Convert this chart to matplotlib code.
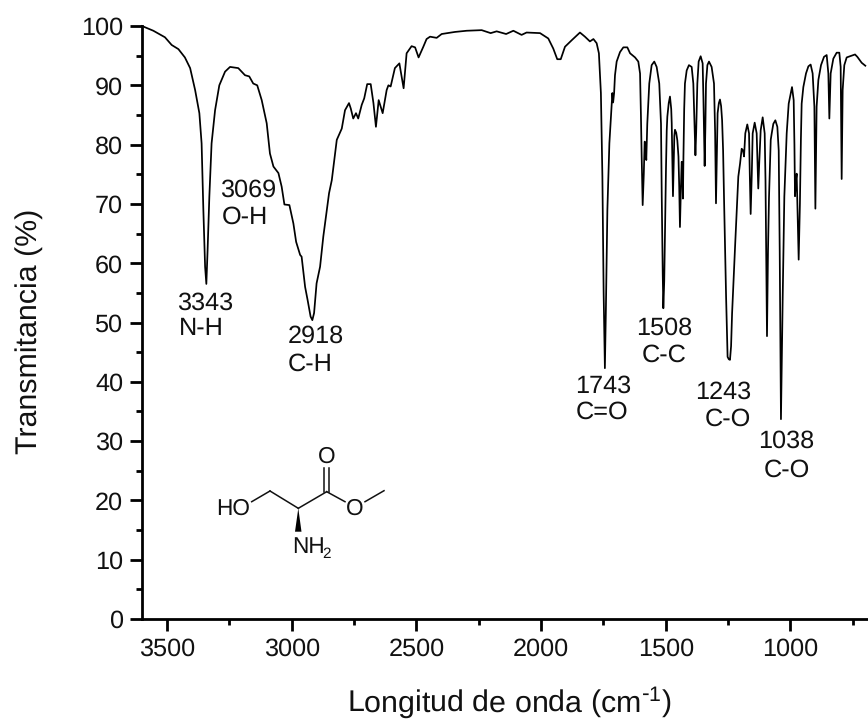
import matplotlib
matplotlib.use("Agg")
import matplotlib.pyplot as plt
from matplotlib.patches import Polygon

plt.rcParams['font.family'] = ['Liberation Sans', 'DejaVu Sans']
plt.rcParams['mathtext.default'] = 'regular'
plt.rcParams['text.hinting'] = 'no_hinting'

wn_high = [3600,3554.5,3508,3481,3454,3428,3407,3387,3370,3361,3354,3347,3342,3337,3330,3321,3307,3290,3267,3247,
 3214,3187,3170,3154,3138,3120,3100,3087,3073,3053,3040,3029,3009,2993,2982,2966,2960,2946,2936,2924,2917,2910,2900,
 2886,2873,2850,2839,2819,2799,2786,2770,2763,2753,2742,2733,2719,2709,2697,2683,2672,2662,2651,2635,2619,2612,2603,
 2586,2568,2559,2551,2539,2519,2505,2491,2472,2459,2445,2418.5,2398.4,2345,2298,2238,2202,2178,2140,2111,2078,2058,
 2004,1971,1951,1935,1921,1904,1877,1844,1824,1804,1790,1777,1768,1760,1754,1749,1744,1740,1734,1726,1714,1711,1707]
t_high = [100,99.2,98.1,96.8,96.1,94.7,92.9,89.2,85.3,80.2,69,59.4,56.5,62.2,71.2,80.2,85.8,90,92.3,93.1,
 92.9,91.7,91.5,90.3,90,87.5,83.6,78.5,76.3,75.2,72.9,69.9,69.8,66.7,63.6,61.4,61.1,56,53.8,51,50.4,51.6,56.6,
 59.4,64.5,71.8,74,80.8,82.7,85.8,87,86.1,84.4,85.3,84.4,86.7,87.8,90.2,90.2,87,83,87.5,85.3,89.2,90,89.8,
 92.9,93.7,91.5,89.5,95.4,96.6,96.4,94.7,96.5,97.8,98.2,98,98.65,99,99.2,99.3,98.8,99.1,98.65,99.2,98.5,98.9,
 98.8,97.9,96.2,94.4,94.4,96.5,97.6,98.9,98.2,97.4,97.8,97.1,95.4,88.7,74.6,54.9,42.3,52.1,69,80.2,88.7,87.1,88.7]
wn_mid = [1703.5,1696.8,1683.4,1670,1654,1643,1623,1610,1603,1599.5,1596.5,1592.5,1588,1584.5,1582,1578,1574,1566,
 1556.5,1546,1536.4,1526,1519,1516,1512,1509.6,1506,1503,1499,1496,1493.6,1488,1483,1478,1476,1473,1471,1468,1465.5,
 1463,1458,1453.5,1449,1446,1443,1439,1436,1434,1431,1429,1426,1423,1416,1407,1396,1389.4,1385,1381,1378,1373.3,1368,
 1360,1352,1349,1344,1341,1338.6,1333,1326.6,1316,1306.5,1302,1298.5,1295,1292,1287,1282.5,1278,1274,1270,1266.4,1258,
 1252,1247,1242.4,1238,1234,1222,1209,1202,1195.5,1190,1186,1181,1173,1166,1163,1159.5,1155,1151.4,1143.4,1135.4,1132,
 1129,1125,1119.3,1111.3,1103.3,1100,1098,1094,1090,1086,1079,1075,1068.6,1060.5,1052.5,1047,1043]
t_mid = [91.7,94,95.6,96.4,96.4,95.4,94.7,94,92,85,78,69.8,75,80.5,80.3,77.4,83.5,90.3,
 93.4,94,93.1,90.3,83.5,71.2,58,52.4,57,65.6,76,82.4,84.7,87,88.1,86,83.6,76,71.3,77,81.5,
 82.5,82,80.7,78,73,66.1,73,77.1,76.8,70.9,78,86,90.3,92.5,93.4,93.1,90.3,84,78.2,82,90.3,94,
 94.9,93.7,88,76.4,83,90.3,93.4,94,93.1,90.3,82,70.1,78,85.3,87,87.6,86.5,84.1,79,71.2,54.3,
 44.2,43.8,43.7,46,51.5,62.8,74.6,76.8,79.3,79,78,81.9,83.4,81.9,75,68.3,75,81.9,83.7,81.9,77,
 72.6,77,82.4,84.6,81.9,74,65.6,47.7,62,71,80.8,81.9,83.5,84.1,83,79,62]
wn_low = [1038,1031,1024.5,1015,1007,993.7,987,984,981.7,978,975,971,967,962,958,955,948.3,937.6,928,919,911,904,900,
 895,888,877.4,865.4,854.7,848,844,838.7,828,814.6,804,798.6,794.6,790.6,784,774.5,754.5,741,731.8,714.4,699.7]
t_low = [33.7,54.3,71.2,81.9,86.9,89.7,87.5,80,71.3,74,75.1,68,60.6,70,81,86.9,89.7,92,93.2,93.5,92,86.4,69.2,
 86.4,90.9,93.4,94.8,95.1,92,84.4,92,94.5,95.5,95.5,93.1,74.2,89.2,93.4,94.7,95,95.2,94.8,93.8,93.3]

peak_labels = ["3343","N-H","3069","O-H","2918","C-H","1743","C=O","1508","C-C","1243","C-O","1038","C-O"]
peak_x = [3348,3363,3176,3187,2902,2926,1752,1755,1507,1507,1268,1252,1018,1014]
peak_y = [53.3,48.9,72.3,67.8,47.6,43,39.3,34.9,49.1,44.5,38.3,33.7,30,25]

x_ticks = [3500,3000,2500,2000,1500,1000]
x_minor = [3250,2750,2250,1750,1250,750]
y_ticks = list(range(0,101,10))
y_minor = list(range(5,100,10))

W, H = 868, 719
fig = plt.figure(figsize=(W/100, H/100), dpi=100)
L, R, T, B = 142, 868, 26, 619
ax = fig.add_axes([L/W, 1-B/H, (R-L)/W, (B-T)/H])
ax.plot(wn_high + wn_mid + wn_low, t_high + t_mid + t_low, color='black', lw=1.25,
        solid_joinstyle='round', clip_on=False)
ax.set_xlim(3600, 689)
ax.set_ylim(0, 100)
ax.spines['top'].set_visible(False)
ax.spines['right'].set_visible(False)
for s in ('left','bottom'):
    ax.spines[s].set_linewidth(2.0)
ax.set_xticks(x_ticks)
ax.set_xticks(x_minor, minor=True)
ax.set_yticks(y_ticks)
ax.set_yticks(y_minor, minor=True)
ax.tick_params(which='major', length=8.5, width=2.0, labelsize=18.2, pad=5, color='black', labelcolor='#111111')
ax.tick_params(which='minor', length=4.3, width=2.0)
fig.text(29/W, 1-331.5/H, "Transmitancia (%)", rotation=90, ha='center', va='center', fontsize=21.9, color='#111111')
fig.text(509.5/W, 1-702/H, r"Longitud de onda (cm$^{\text{-}1}$)", ha='center', va='center', fontsize=21.9, color='#111111')

for s, x, y in zip(peak_labels, peak_x, peak_y):
    ax.text(x, y, s, ha='center', va='center', fontsize=18.2, color='#111111')

# Molecular structure, drawn on a pixel-space overlay
ov = fig.add_axes([0,0,1,1], facecolor='none')
ov.set_xlim(0, W); ov.set_ylim(H, 0); ov.axis('off')
bonds = [((251.7,501.7),(270,491)),((270,491),(298.3,508.3)),((298.3,508.3),(326.7,491.7)),
         ((324,491.7),(324,468.3)),((329.3,491.7),(329.3,468.3)),((326.7,491.7),(345,501.7)),
         ((365,501.7),(384,490.7))]
for a, b in bonds:
    ov.plot([a[0],b[0]], [a[1],b[1]], color='#111111', lw=1.1)
ov.add_patch(Polygon([(298.3,508.3),(295,531.7),(301.5,531.7)], closed=True, fc='black', ec='none'))
mol = dict(ha='center', va='center', fontsize=16.3, color='#111111')
ov.text(233, 509, "HO", **mol)
ov.text(326.7, 456.7, "O", **mol)
ov.text(355, 509.3, "O", **mol)
ov.text(291.7, 552.7, "NH", ha='left', va='baseline', fontsize=16.3, color='#111111')
ov.text(322.7, 558, "2", ha='left', va='baseline', fontsize=11, color='#111111')

fig.savefig("out.png", dpi=100)
